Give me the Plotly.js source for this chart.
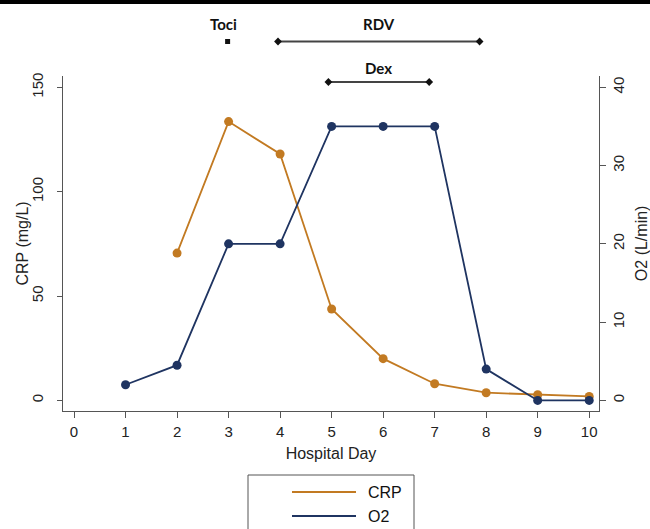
<!DOCTYPE html>
<html>
<head>
<meta charset="utf-8">
<script src="https://cdn.plot.ly/plotly-3.0.1.min.js"></script>
<style>html,body{margin:0;padding:0;background:#fff;}#chart{width:650px;height:529px;}</style>
</head>
<body>
<div id="chart"></div>
<script>
// ---- data ----
var days = [1, 2, 3, 4, 5, 6, 7, 8, 9, 10];
var crp = [null, 70.6, 133.6, 118.1, 43.8, 20.0, 8.0, 3.7, 2.7, 1.9];
var o2 = [2.0, 4.5, 20.0, 20.0, 35.0, 35.0, 35.0, 4.0, 0.0, 0.0];
var seriesNames = ["CRP", "O2"];
var xTicks = [0, 1, 2, 3, 4, 5, 6, 7, 8, 9, 10];
var crpTicks = [0, 50, 100, 150];
var o2Ticks = [0, 10, 20, 30, 40];
var treatNames = ["Toci", "RDV", "Dex"];
var treatStart = [3, 4, 5];
var treatEnd = [3, 8, 7];
var treatRow = [1, 1, 0];

// ---- geometry helpers (pixel -> paper) ----
var W = 650, H = 529, L = 63, R = 51, T = 0, B = 118;
var PW = W - L - R, PH = H - T - B;
function px(x) { return (x - L) / PW; }
function py(y) { return (H - B - y) / PH; }

var orange = "#C27A22", navy = "#1F3461", axc = "#555555";
var sans = "Liberation Sans, Arial, sans-serif";

var traces = [
  {x: days, y: crp, name: seriesNames[0], type: "scatter", mode: "lines+markers",
   xaxis: "x", yaxis: "y", connectgaps: false,
   line: {color: orange, width: 1.8}, marker: {color: orange, size: 9}},
  {x: days, y: o2, name: seriesNames[1], type: "scatter", mode: "lines+markers",
   xaxis: "x", yaxis: "y2",
   line: {color: navy, width: 1.8}, marker: {color: navy, size: 9}}
];

var annotations = [];
for (var i = 0; i < treatNames.length; i++) {
  var single = treatStart[i] === treatEnd[i];
  traces.push({
    x: single ? [treatStart[i]] : [treatStart[i], treatEnd[i]],
    y: single ? [treatRow[i]] : [treatRow[i], treatRow[i]],
    type: "scatter", mode: single ? "markers" : "lines+markers",
    xaxis: "x2", yaxis: "y3", showlegend: false, hoverinfo: "skip",
    line: {color: "#444", width: 2},
    marker: single ? {symbol: "square", size: 5, color: "#111"} : {symbol: "diamond", size: 6, color: "#111"}
  });
  annotations.push({
    x: (treatStart[i] + treatEnd[i]) / 2 - (single ? 0.08 : 0), y: treatRow[i],
    xref: "x2", yref: "y3", text: "<b>" + treatNames[i] + "</b>", showarrow: false,
    yshift: treatRow[i] === 1 ? 18 : 14, font: {family: "Lato, sans-serif", size: 15, color: "#111"}
  });
}

// left axis title
annotations.push({x: px(22), y: py(243.5), xref: "paper", yref: "paper", textangle: -90,
  xanchor: "center", yanchor: "middle", text: "CRP (mg/L)", showarrow: false,
  font: {family: sans, size: 16, color: "#222"}});

// legend (drawn manually, box runs off the bottom)
annotations.push({x: px(366), y: py(492), xref: "paper", yref: "paper", xanchor: "left", yanchor: "middle",
  text: seriesNames[0], showarrow: false, font: {family: sans, size: 16, color: "#111"}});
annotations.push({x: px(366), y: py(516), xref: "paper", yref: "paper", xanchor: "left", yanchor: "middle",
  text: seriesNames[1], showarrow: false, font: {family: sans, size: 16, color: "#111"}});

var shapes = [
  {type: "rect", xref: "paper", yref: "paper", x0: px(-5), x1: px(660), y0: py(0), y1: py(4),
   fillcolor: "#000", line: {width: 0}, layer: "above"},
  {type: "rect", xref: "paper", yref: "paper", x0: px(248), x1: px(414), y0: py(475), y1: py(545),
   fillcolor: "rgba(0,0,0,0)", line: {color: axc, width: 1}},
  {type: "line", xref: "paper", yref: "paper", x0: px(292), x1: px(356), y0: py(492), y1: py(492),
   line: {color: orange, width: 2}},
  {type: "line", xref: "paper", yref: "paper", x0: px(292), x1: px(356), y0: py(516), y1: py(516),
   line: {color: navy, width: 2}}
];

var tickFont = {family: sans, size: 15, color: "#222"};
var titleFont = {family: sans, size: 16, color: "#222"};
var yTop = py(75.7);

var layout = {
  width: W, height: H,
  margin: {l: L, r: R, t: T, b: B, pad: 0},
  paper_bgcolor: "#fff", plot_bgcolor: "rgba(0,0,0,0)",
  showlegend: false,
  xaxis: {range: [-0.214, 10.19], tickvals: xTicks, ticktext: xTicks.map(String),
    showgrid: false, zeroline: false, showline: true, linecolor: axc, linewidth: 1,
    ticks: "outside", ticklen: 6, tickcolor: axc, tickfont: tickFont, ticklabelstandoff: 1,
    title: {text: "Hospital Day", font: titleFont, standoff: 8}, anchor: "y", fixedrange: true},
  xaxis2: {range: [-0.266, 10.369], overlaying: "x", visible: false, anchor: "y3"},
  yaxis: {domain: [0, yTop], range: [-5.07, 155.6], tickvals: crpTicks, ticktext: crpTicks.map(String),
    showgrid: false, zeroline: false, showline: true, linecolor: axc, linewidth: 1,
    ticks: "outside", ticklen: 5, tickcolor: axc, tickfont: tickFont, tickangle: -90, ticklabelstandoff: 8,
    anchor: "x"},
  yaxis2: {domain: [0, yTop], range: [-1.35, 41.48], overlaying: "y", side: "right",
    tickvals: o2Ticks, ticktext: o2Ticks.map(String),
    showgrid: false, zeroline: false, showline: true, linecolor: axc, linewidth: 1,
    ticks: "outside", ticklen: 6, tickcolor: axc, tickfont: tickFont, tickangle: -90, ticklabelstandoff: 0,
    title: {text: "O2 (L/min)", font: titleFont, standoff: 14}, anchor: "x"},
  yaxis3: {domain: [0, 1], range: [-8.1235, 2.0247], visible: false, anchor: "x2"},
  annotations: annotations,
  shapes: shapes
};

Plotly.newPlot("chart", traces, layout, {displayModeBar: false, staticPlot: true});
</script>
</body>
</html>
